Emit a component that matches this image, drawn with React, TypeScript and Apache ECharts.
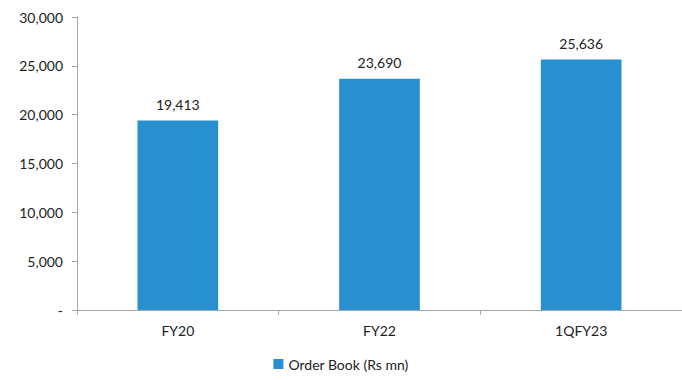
import React, { useEffect, useRef } from "react";
import * as echarts from "echarts";

const categories = ["FY20", "FY22", "1QFY23"];
const orderBook = [19413, 23690, 25636];
const seriesName = "Order Book (Rs mn)";

const fmt = (v: number) => (v === 0 ? "-" : v.toLocaleString("en-US"));

export default function App() {
  const ref = useRef<HTMLDivElement>(null);
  useEffect(() => {
    const chart = echarts.init(ref.current!, null, { renderer: "svg" });
    const font = "Lato, 'Noto Sans', sans-serif";
    chart.setOption({
      animation: false,
      textStyle: { fontFamily: font },
      grid: { left: 77, top: 17, width: 614, height: 293, containLabel: false },
      legend: {
        data: [seriesName],
        bottom: 4,
        left: "center",
        itemWidth: 10,
        itemHeight: 10,
        itemGap: 4,
        icon: "rect",
        textStyle: { fontSize: 14, color: "#222", fontFamily: font },
      },
      xAxis: {
        type: "category",
        data: categories,
        axisLine: { lineStyle: { color: "#a6a6a6" } },
        axisTick: { show: true, length: 5, lineStyle: { color: "#a6a6a6" } },
        axisLabel: { color: "#222", fontSize: 14, margin: 13, fontFamily: font },
      },
      yAxis: {
        type: "value",
        min: 0,
        max: 30000,
        interval: 5000,
        splitLine: { show: false },
        axisLine: { show: true, lineStyle: { color: "#a6a6a6" } },
        axisTick: { show: true, length: 5, lineStyle: { color: "#a6a6a6" } },
        axisLabel: { color: "#222", fontSize: 14, margin: 14, formatter: fmt, fontFamily: font },
      },
      series: [
        {
          name: seriesName,
          type: "bar",
          data: orderBook,
          barWidth: "40%",
          itemStyle: { color: "#2990D0" },
          label: {
            show: true,
            position: "top",
            distance: 9,
            color: "#222",
            fontSize: 14,
            fontFamily: font,
            formatter: (p: any) => fmt(p.value),
          },
        },
      ],
    });
    return () => chart.dispose();
  }, []);
  return (
    <div
      ref={ref}
      style={{ position: "fixed", left: 0, top: 0, width: 682, height: 380, background: "#fff" }}
    />
  );
}
